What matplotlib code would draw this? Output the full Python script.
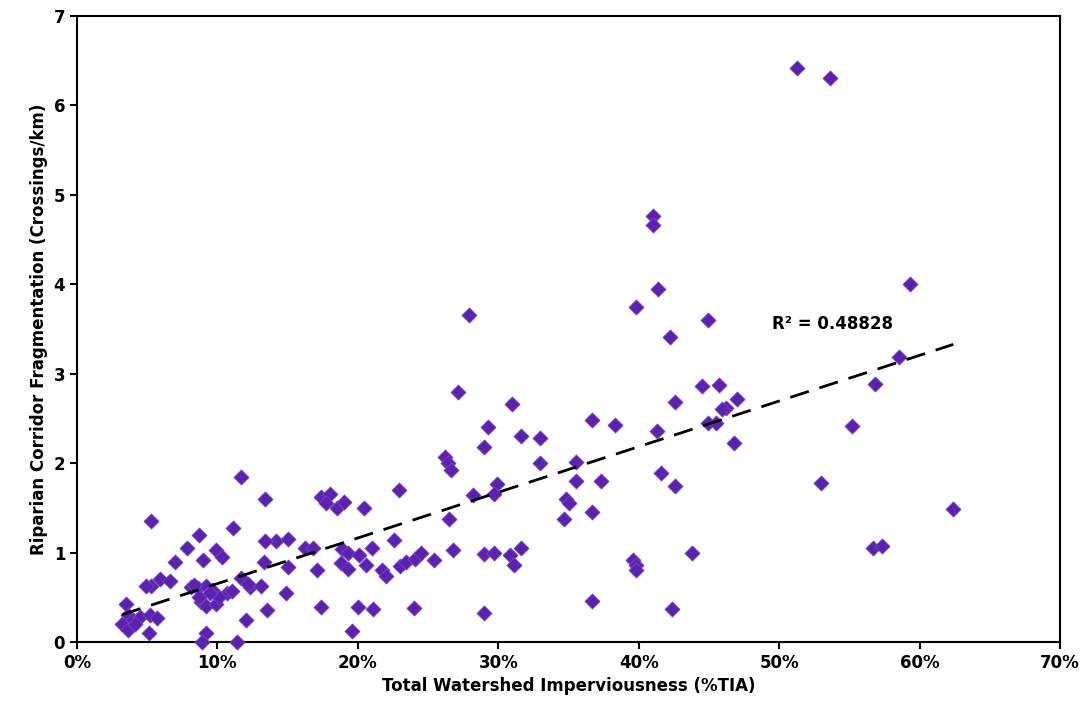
import numpy as np
import matplotlib.pyplot as plt
from matplotlib.ticker import FuncFormatter

# imperviousness (%TIA) and crossings/km
tia = [51.3, 53.6, 41.0, 41.0, 41.4, 59.3, 39.8, 27.9, 42.2, 44.9, 58.5, 27.1, 44.5, 45.7, 47.0,
       42.6, 46.2, 45.9, 31.0, 29.3, 36.7, 38.3, 44.9, 45.5, 41.3, 55.2, 56.8, 31.6, 33.0, 26.2,
       26.4, 26.6, 29.0, 33.0, 35.5, 46.8, 41.6, 35.5, 37.3, 42.6, 53.0, 29.9, 28.2, 29.7, 34.8,
       35.0, 34.7, 36.7, 62.4, 11.7, 22.9, 17.4, 18.0, 17.7, 18.5, 19.0, 20.4, 13.4, 5.3, 11.1,
       8.7, 26.5, 31.6, 21.0, 22.6, 14.2, 15.0, 13.4, 16.2, 16.8, 18.9, 19.3, 20.1, 9.9, 7.8,
       10.3, 7.0, 9.0, 26.8, 29.0, 29.7, 30.8, 31.1, 43.8, 39.6, 39.8, 39.8, 56.7, 57.3, 13.3,
       15.0, 17.1, 18.8, 19.3, 20.6, 21.7, 22.0, 23.0, 23.4, 24.1, 25.4, 24.5, 5.9, 6.6, 5.3,
       8.1, 8.6, 9.2, 9.6, 10.7, 11.7, 12.3, 13.1, 12.2, 14.9, 4.9, 3.5, 3.6, 4.0, 4.5,
       3.2, 3.6, 4.1, 5.2, 5.7, 5.1, 8.8, 9.2, 9.9, 8.7, 13.5, 17.4, 20.0, 21.1, 24.0,
       29.0, 36.7, 42.4, 19.6, 9.2, 8.9, 11.4, 12.0, 11.0, 10.1, 9.5, 8.3]
frag = [6.42, 6.30, 4.76, 4.66, 3.95, 4.00, 3.75, 3.66, 3.41, 3.60, 3.19, 2.80, 2.86, 2.87, 2.72,
        2.68, 2.62, 2.60, 2.66, 2.40, 2.48, 2.43, 2.45, 2.45, 2.36, 2.42, 2.88, 2.30, 2.28, 2.07,
        2.00, 1.92, 2.18, 2.00, 2.01, 2.22, 1.89, 1.80, 1.80, 1.74, 1.78, 1.77, 1.64, 1.65, 1.60,
        1.56, 1.38, 1.45, 1.49, 1.84, 1.70, 1.62, 1.66, 1.55, 1.50, 1.57, 1.50, 1.60, 1.35, 1.28,
        1.20, 1.38, 1.05, 1.05, 1.14, 1.13, 1.15, 1.13, 1.05, 1.05, 1.04, 1.00, 0.97, 1.03, 1.05,
        0.95, 0.90, 0.92, 1.03, 0.98, 1.00, 0.97, 0.86, 1.00, 0.92, 0.86, 0.81, 1.05, 1.07, 0.90,
        0.84, 0.80, 0.88, 0.82, 0.86, 0.80, 0.74, 0.85, 0.90, 0.93, 0.92, 1.00, 0.70, 0.68, 0.63,
        0.62, 0.60, 0.63, 0.58, 0.55, 0.72, 0.62, 0.63, 0.65, 0.55, 0.63, 0.42, 0.30, 0.25, 0.28,
        0.20, 0.13, 0.20, 0.30, 0.27, 0.10, 0.45, 0.40, 0.42, 0.50, 0.36, 0.39, 0.39, 0.37, 0.38,
        0.33, 0.46, 0.37, 0.12, 0.10, 0.00, 0.00, 0.25, 0.57, 0.50, 0.55, 0.64]
r2_label = 'R² = 0.48828'

x = np.array(tia) / 100
y = np.array(frag)

fig = plt.figure(figsize=(10.85, 7.19), dpi=100)
ax = fig.add_axes([0.071, 0.107, 0.906, 0.871])

ax.scatter(x, y, marker='D', s=60, color='#5b22b0', edgecolors='#7a4cc8', linewidths=0.5, zorder=3, clip_on=False)

# linear trend
slope, icpt = np.polyfit(x, y, 1)
xl = np.array([x.min(), x.max()])
ax.plot(xl, slope * xl + icpt, color='black', linestyle=(0, (7, 4)), linewidth=2, zorder=4)
ax.text(0.495, 3.55, r2_label, fontsize=12, fontweight='bold', ha='left', va='center')

ax.set_xlim(0, 0.7)
ax.set_ylim(0, 7)
ax.set_xticks(np.arange(0, 0.71, 0.1))
ax.set_yticks(range(0, 8))
ax.xaxis.set_major_formatter(FuncFormatter(lambda v, p: '{:.0f}%'.format(v * 100)))
ax.tick_params(direction='out', length=5, width=1.5, labelsize=12)
for t in ax.get_xticklabels() + ax.get_yticklabels():
    t.set_fontweight('bold')
for s in ax.spines.values():
    s.set_linewidth(1.5)

ax.set_xlabel('Total Watershed Imperviousness (%TIA)', fontsize=12, fontweight='bold')
ax.set_ylabel('Riparian Corridor Fragmentation (Crossings/km)', fontsize=12, fontweight='bold')

plt.savefig('out.png')
